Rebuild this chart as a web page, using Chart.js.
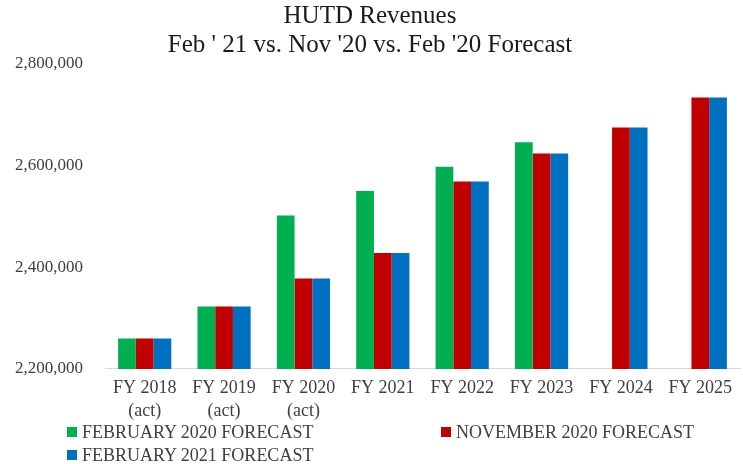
<!DOCTYPE html>
<html>
<head>
<meta charset="utf-8">
<script src="https://cdn.jsdelivr.net/npm/chart.js@4/dist/chart.umd.min.js"></script>
<style>
  html, body { margin: 0; padding: 0; background: #fff; }
  #wrap { position: relative; width: 743px; height: 464px; }
  #legend { position: absolute; left: 0; top: 0; width: 743px; height: 464px; pointer-events: none;
            font-family: "Liberation Serif", "DejaVu Serif", serif; font-size: 18px; color: #404040; }
  .item { position: absolute; white-space: nowrap; line-height: 20px; }
  .box { display: inline-block; width: 10px; height: 10px; margin-right: 5px; vertical-align: 1px; }
</style>
</head>
<body>
<div id="wrap">
  <canvas id="revChart" width="743" height="464"></canvas>
  <div id="legend"></div>
</div>
<script>
var categories = [
  ['FY 2018', '(act)'], ['FY 2019', '(act)'], ['FY 2020', '(act)'], 'FY 2021',
  'FY 2022', 'FY 2023', 'FY 2024', 'FY 2025'
];
var seriesNames = ['FEBRUARY 2020 FORECAST', 'NOVEMBER 2020 FORECAST', 'FEBRUARY 2021 FORECAST'];
var feb20 = [2260000, 2323000, 2502000, 2550000, 2598000, 2646000, null, null];
var nov20 = [2260000, 2323000, 2378000, 2428000, 2569000, 2624000, 2675000, 2734000];
var feb21 = [2260000, 2323000, 2378000, 2428000, 2569000, 2624000, 2675000, 2734000];
var seriesColors = ['#00B050', '#C00000', '#0070C0'];
var yTicks = [2200000, 2400000, 2600000, 2800000];

var serif = '"Liberation Serif", "DejaVu Serif", serif';
var values = [feb20, nov20, feb21];

var ctx = document.getElementById('revChart').getContext('2d');
var revChart = new Chart(ctx, {
  type: 'bar',
  data: {
    labels: categories,
    datasets: seriesNames.map(function(name, i) {
      return {
        label: name,
        data: values[i],
        backgroundColor: seriesColors[i],
        borderWidth: 0,
        barPercentage: 1.0,
        categoryPercentage: 0.67
      };
    })
  },
  options: {
    responsive: false,
    animation: false,
    layout: { padding: { top: 0, right: 3, bottom: 33, left: 0 } },
    plugins: {
      legend: { display: false },
      tooltip: { enabled: false },
      title: {
        display: true,
        text: ['HUTD Revenues', "Feb ' 21 vs. Nov '20 vs. Feb '20 Forecast"],
        color: '#1a1a1a',
        font: { family: serif, size: 25, weight: 'normal', lineHeight: 1.16 },
        padding: { top: 2, bottom: 4 }
      }
    },
    scales: {
      x: {
        grid: { display: false, drawTicks: false },
        border: { display: true, color: '#d9d9d9', width: 1 },
        ticks: {
          color: '#404040',
          padding: 8,
          maxRotation: 0,
          font: { family: serif, size: 18, lineHeight: 1.28 }
        }
      },
      y: {
        min: 2200000,
        max: 2800000,
        afterFit: function(scale) { scale.width = 105; },
        afterBuildTicks: function(scale) {
          scale.ticks = yTicks.map(function(v) { return { value: v }; });
        },
        grid: { display: false, drawTicks: false },
        border: { display: false },
        ticks: {
          color: '#404040',
          padding: 22,
          font: { family: serif, size: 17 },
          callback: function(v) { return v.toLocaleString('en-US'); }
        }
      }
    }
  }
});

// legend in two columns, as in the reference
var legendPos = [[67, 422], [441, 422], [67, 445]];
var legend = document.getElementById('legend');
seriesNames.forEach(function(name, i) {
  var el = document.createElement('div');
  el.className = 'item';
  el.style.left = legendPos[i][0] + 'px';
  el.style.top = legendPos[i][1] + 'px';
  el.innerHTML = '<span class="box" style="background:' + seriesColors[i] + '"></span>' + name;
  legend.appendChild(el);
});
</script>
</body>
</html>
